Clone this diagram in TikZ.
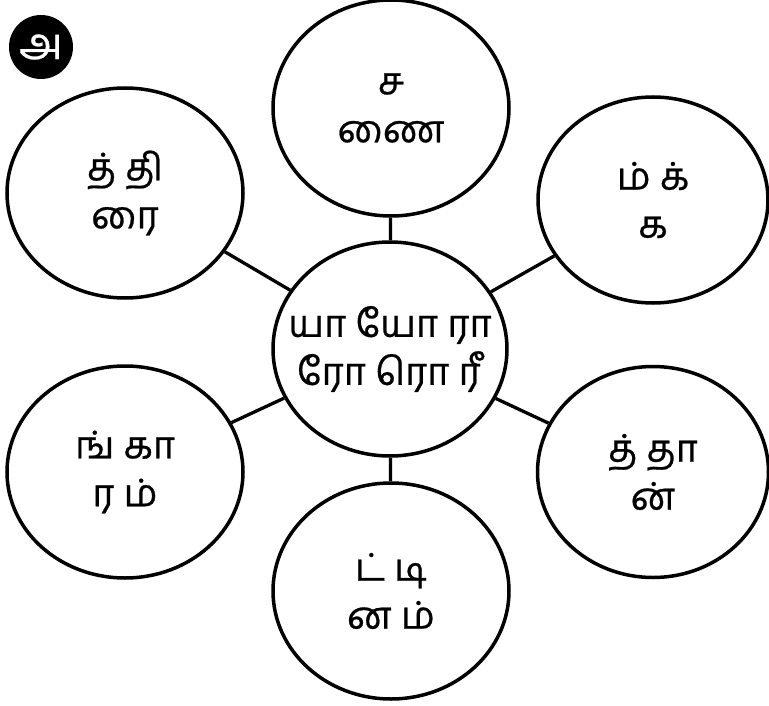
\documentclass[tikz,border=0pt]{standalone}
\usepackage{fontspec}
\newfontfamily\tamilfont[Script=Tamil,FakeBold=0.6]{Hind Madurai}
\usetikzlibrary{shapes.geometric}
\begin{document}
\begin{tikzpicture}[x=1pt,y=-1pt,
  bubble/.style={ellipse,draw=black,line width=3.5pt,inner sep=0pt},
  txt/.style={label={[align=center,inner sep=0pt,font=\tamilfont\fontsize{38}{48}\selectfont]center:{#1}}},
  link/.style={line width=3.3pt},
  badge/.style={circle,fill=black,inner sep=0pt,minimum size=64pt,text=white,
    font=\tamilfont\fontsize{44}{48}\selectfont}]
\useasboundingbox (0,0) rectangle (769,706);
\node[bubble,minimum width=234pt,minimum height=214pt,txt={யா யோ ரா\\ரோ ரொ ரீ}] (c) at (390,349) {};
\node[bubble,minimum width=236pt,minimum height=216pt,txt={ச\\ணை}] (t) at (391,108) {};
\node[bubble,minimum width=236pt,minimum height=210pt,txt={த் தி\\ரை}] (tl) at (125,193) {};
\node[bubble,minimum width=230pt,minimum height=206pt,txt={ம் க்\\க}] (tr) at (653,200) {};
\node[bubble,minimum width=236pt,minimum height=212pt,txt={ங் கா\\ர ம்}] (bl) at (125,472) {};
\node[bubble,minimum width=231pt,minimum height=211pt,txt={த் தா\\ன்}] (br) at (653,472) {};
\node[bubble,minimum width=236pt,minimum height=216pt,txt={ட் டி\\ன ம்}] (b) at (391,591) {};
\node[badge] (a) at (41,47) {அ};
\draw[link] (c) -- (t);
\draw[link] (c) -- (tl);
\draw[link] (c) -- (tr);
\draw[link] (c) -- (bl);
\draw[link] (c) -- (br);
\draw[link] (c) -- (b);
\end{tikzpicture}
\end{document}
